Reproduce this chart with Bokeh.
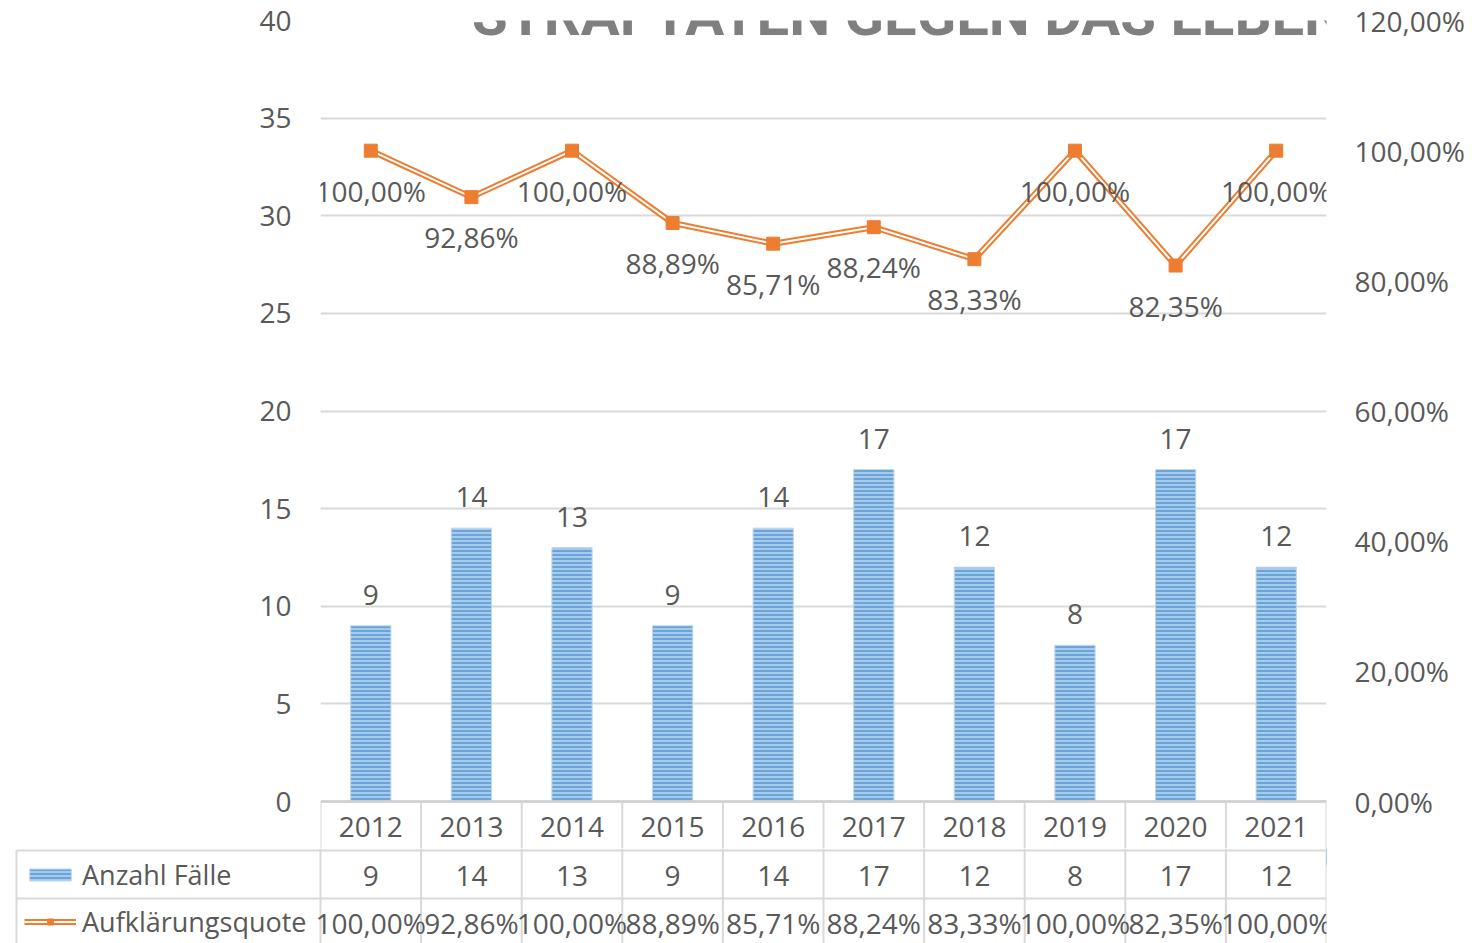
from bokeh.plotting import figure
from bokeh.layouts import column
from bokeh.models import (Range1d, LinearAxis, FixedTicker, CustomJSTickFormatter,
                          ColumnDataSource, Label, Legend, LegendItem, Span)
from bokeh.core.properties import value
from bokeh.embed import file_html
from bokeh.resources import INLINE

# ---- data ----
years = ["2012", "2013", "2014", "2015", "2016", "2017", "2018", "2019", "2020", "2021"]
cases = [9, 14, 13, 9, 14, 17, 12, 8, 17, 12]
rates = [1.0, 0.9286, 1.0, 0.8889, 0.8571, 0.8824, 0.8333, 1.0, 0.8235, 1.0]
rate_labels = ["100,00%", "92,86%", "100,00%", "88,89%", "85,71%", "88,24%",
               "83,33%", "100,00%", "82,35%", "100,00%"]
left_ticks = [0, 5, 10, 15, 20, 25, 30, 35, 40]
right_ticks = [0, 0.2, 0.4, 0.6, 0.8, 1.0, 1.2]
series_names = ["Anzahl Fälle", "Aufklärungsquote"]
title_text = "STRAFTATEN GEGEN DAS LEBEN"

# ---- style / layout (pixels) ----
FONT = "Open Sans"
TXT = "#595959"
GRID = "#D9D9D9"
ORANGE = "#ED7D31"
FS = "28px"
W = 1484
F_LEFT, F_RIGHT = 320, 1326          # plot area
F_TOP, AXIS_Y = 20, 801              # top of plot area, y of value 0
TOP_H = 848                          # chart canvas height (includes year row)
TAB_H = 943 - TOP_H                  # table canvas height
TAB_LEFT = 16                        # left edge of the table
n = len(years)
px_per_cat = (F_RIGHT - F_LEFT) / n
ppu = (AXIS_Y - F_TOP) / left_ticks[-1]
ppu_pct = (AXIS_Y - F_TOP) / right_ticks[-1]
y_start = -(TOP_H - AXIS_Y) / ppu
y_start_pct = -(TOP_H - AXIS_Y) / ppu_pct

xs = [i + 0.5 for i in range(n)]
bounds = list(range(n + 1))
src = ColumnDataSource(dict(x=xs, year=years, cases=cases, rate=rates,
                            rate_lbl=rate_labels, cases_lbl=[str(c) for c in cases]))

BAR_STYLE = dict(fill_color="#A7C9EA", hatch_pattern="horizontal_line", hatch_color="#5B9BD5",
                 hatch_scale=4, hatch_weight=1.6, line_color="#BDD7EE", line_width=1)

# ================= chart (+ year row) =================
p = figure(width=W, height=TOP_H, x_range=Range1d(0, n),
           y_range=Range1d(y_start, left_ticks[-1]),
           output_backend="svg", toolbar_location=None, x_axis_location=None,
           min_border_left=F_LEFT, min_border_right=W - F_RIGHT,
           min_border_top=F_TOP, min_border_bottom=0,
           outline_line_color=None, frame_align=False)
p.extra_y_ranges = {"pct": Range1d(y_start_pct, right_ticks[-1])}

ya = p.yaxis[0]
ya.ticker = FixedTicker(ticks=left_ticks)
ya.major_label_text_font = FONT
ya.major_label_text_font_size = FS
ya.major_label_text_color = TXT
ya.axis_line_color = None
ya.major_tick_line_color = None
ya.minor_tick_line_color = None
ya.major_tick_out = 0
ya.major_label_standoff = 29

ra = LinearAxis(y_range_name="pct", ticker=FixedTicker(ticks=right_ticks),
                formatter=CustomJSTickFormatter(code="return (tick*100).toFixed(2).replace('.', ',') + '%';"))
ra.major_label_text_font = FONT
ra.major_label_text_font_size = FS
ra.major_label_text_color = TXT
ra.axis_line_color = None
ra.major_tick_line_color = None
ra.minor_tick_line_color = None
ra.major_tick_out = 0
ra.major_label_standoff = 28
p.add_layout(ra, "right")

p.xgrid.visible = False
p.ygrid.ticker = FixedTicker(ticks=left_ticks)
p.ygrid.grid_line_color = GRID
p.ygrid.grid_line_width = 2

# category axis line and year row of the data table
p.add_layout(Span(location=0, dimension="width", line_color="#CFCFCF", line_width=2.5))
p.segment(x0=bounds, x1=bounds, y0=[0] * len(bounds), y1=[y_start] * len(bounds),
          line_color=GRID, line_width=2)
p.text(x="x", y=-(826 - AXIS_Y) / ppu, text="year", source=src, text_align="center",
       text_baseline="middle", text_font=value(FONT), text_font_size=FS, text_color=TXT)

bars = p.vbar(x="x", top="cases", width=0.4, source=src, **BAR_STYLE)
p.text(x="x", y="cases", text="cases_lbl", source=src, text_align="center",
       text_baseline="middle", y_offset=-31, text_font=value(FONT),
       text_font_size=FS, text_color=TXT)

p.line(x="x", y="rate", source=src, y_range_name="pct", line_color=ORANGE, line_width=6)
p.line(x="x", y="rate", source=src, y_range_name="pct", line_color="white", line_width=2)
p.scatter(x="x", y="rate", source=src, y_range_name="pct", marker="square", size=13,
          fill_color=ORANGE, line_color=ORANGE)
p.text(x="x", y="rate", text="rate_lbl", source=src, y_range_name="pct", text_align="center",
       text_baseline="middle", y_offset=40, text_font=value(FONT),
       text_font_size=FS, text_color=TXT)

# title, cut off at the top edge as in the reference
p.add_layout(Label(x=(908 - F_LEFT) / px_per_cat, y=left_ticks[-1] + (F_TOP - 14) / ppu,
                   text=title_text, text_align="center", text_baseline="alphabetic",
                   text_font="Roboto", text_font_style="bold", text_font_size="58px",
                   text_color="#7F7F7F"))

# ================= data table rows =================
x_start = -(F_LEFT - 10) / px_per_cat
x_tab = -(F_LEFT - TAB_LEFT) / px_per_cat
t = figure(width=W, height=TAB_H, x_range=Range1d(x_start, n), y_range=Range1d(TAB_H, 0),
           output_backend="svg", toolbar_location=None, x_axis_location=None, y_axis_location=None,
           min_border_left=10, min_border_right=W - F_RIGHT, min_border_top=0, min_border_bottom=0,
           outline_line_color=None, frame_align=False)
t.grid.visible = False
t.extra_x_ranges = {"off": Range1d(-30, -20)}   # legend proxies are drawn out of view

row_lines = [850 - TOP_H, 898 - TOP_H]
t.segment(x0=[x_tab] * 2, x1=[n] * 2, y0=row_lines, y1=row_lines, line_color=GRID, line_width=2)
t.segment(x0=bounds, x1=bounds, y0=[0] * len(bounds), y1=[TAB_H] * len(bounds),
          line_color=GRID, line_width=2)
t.segment(x0=[x_tab], x1=[x_tab], y0=[row_lines[0]], y1=[TAB_H], line_color=GRID, line_width=2)

t.text(x="x", y=875 - TOP_H, text="cases_lbl", source=src, text_align="center",
       text_baseline="middle", text_font=value(FONT), text_font_size=FS, text_color=TXT)
t.text(x="x", y=922 - TOP_H, text="rate_lbl", source=src, text_align="center",
       text_baseline="middle", text_font=value(FONT), text_font_size=FS, text_color=TXT)

# legend swatches: proxies styled like the chart series
lb = t.vbar(x="x", top="cases", width=0.4, source=src, x_range_name="off", **BAR_STYLE)
ll1 = t.line(x="x", y="rate", source=src, x_range_name="off", line_color=ORANGE, line_width=6)
ll2 = t.line(x="x", y="rate", source=src, x_range_name="off", line_color="white", line_width=2)
lm = t.scatter(x="x", y="rate", source=src, x_range_name="off", marker="square", size=13,
               fill_color=ORANGE, line_color=ORANGE)
legend = Legend(items=[LegendItem(label=series_names[0], renderers=[lb]),
                       LegendItem(label=series_names[1], renderers=[ll1, ll2, lm])],
                location=(14, 3), orientation="vertical",
                glyph_width=52, glyph_height=15, label_standoff=6, spacing=10,
                padding=0, margin=0, border_line_color=None, background_fill_alpha=0,
                label_text_font=FONT, label_text_font_size="27px", label_text_color=TXT)
t.add_layout(legend, "center")

layout = column(p, t, spacing=0)
open("out.html", "w").write(file_html(layout, INLINE))
